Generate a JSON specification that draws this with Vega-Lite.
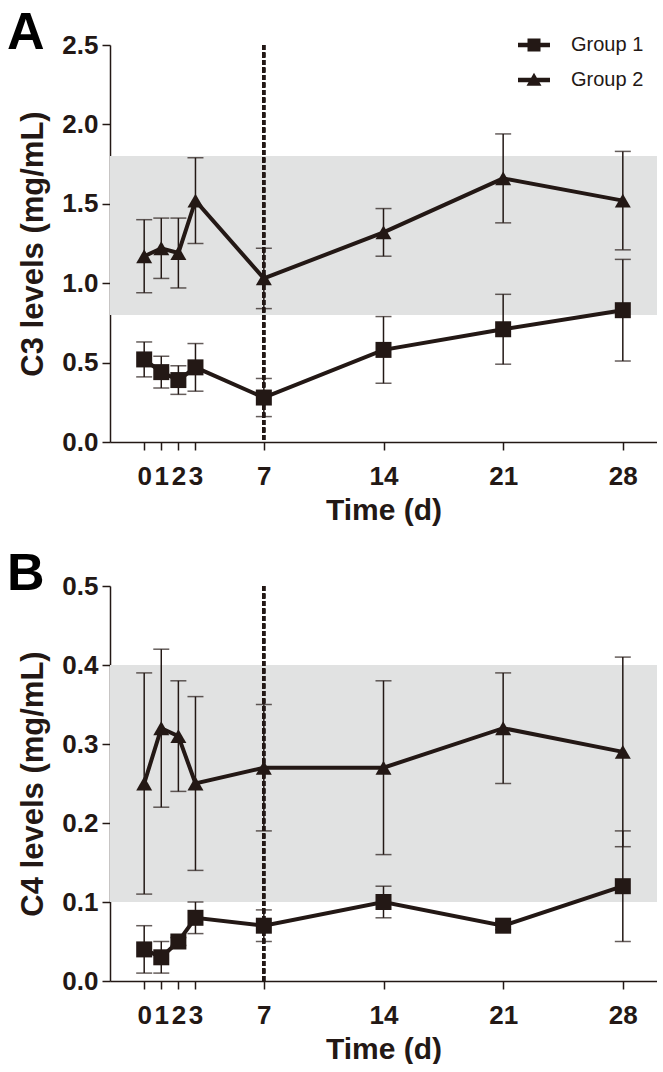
{
  "$schema": "https://vega.github.io/schema/vega-lite/v6.json",
  "background": "white",
  "padding": {"left": 7, "top": 7, "right": 0, "bottom": 0},
  "spacing": 23,
  "config": {
    "view": {"stroke": null},
    "font": "Liberation Sans",
    "axis": {
      "grid": false,
      "domainColor": "#231815",
      "domainWidth": 1.5,
      "tickColor": "#231815",
      "tickWidth": 1.5,
      "tickSize": 8,
      "labelFont": "Liberation Sans",
      "labelFontSize": 26,
      "labelFontWeight": "bold",
      "labelColor": "#231815",
      "titleFont": "Liberation Sans",
      "titleFontSize": 30,
      "titleFontWeight": "bold",
      "titleColor": "#231815",
      "labelOverlap": false,
      "labelFlush": false
    },
    "title": {
      "anchor": "start",
      "frame": "group",
      "fontSize": 52,
      "fontWeight": "bold",
      "font": "Liberation Sans",
      "color": "black",
      "dx": -103,
      "offset": -28
    }
  },
  "datasets": {
    "c3": [
      {"day": 0, "group": "Group 1", "mean": 0.52, "lo": 0.41, "hi": 0.63},
      {"day": 1, "group": "Group 1", "mean": 0.44, "lo": 0.34, "hi": 0.54},
      {"day": 2, "group": "Group 1", "mean": 0.39, "lo": 0.30, "hi": 0.48},
      {"day": 3, "group": "Group 1", "mean": 0.47, "lo": 0.32, "hi": 0.62},
      {"day": 7, "group": "Group 1", "mean": 0.28, "lo": 0.16, "hi": 0.40},
      {"day": 14, "group": "Group 1", "mean": 0.58, "lo": 0.37, "hi": 0.79},
      {"day": 21, "group": "Group 1", "mean": 0.71, "lo": 0.49, "hi": 0.93},
      {"day": 28, "group": "Group 1", "mean": 0.83, "lo": 0.51, "hi": 1.15},
      {"day": 0, "group": "Group 2", "mean": 1.17, "lo": 0.94, "hi": 1.40},
      {"day": 1, "group": "Group 2", "mean": 1.22, "lo": 1.03, "hi": 1.41},
      {"day": 2, "group": "Group 2", "mean": 1.19, "lo": 0.97, "hi": 1.41},
      {"day": 3, "group": "Group 2", "mean": 1.52, "lo": 1.25, "hi": 1.79},
      {"day": 7, "group": "Group 2", "mean": 1.03, "lo": 0.84, "hi": 1.22},
      {"day": 14, "group": "Group 2", "mean": 1.32, "lo": 1.17, "hi": 1.47},
      {"day": 21, "group": "Group 2", "mean": 1.66, "lo": 1.38, "hi": 1.94},
      {"day": 28, "group": "Group 2", "mean": 1.52, "lo": 1.21, "hi": 1.83}
    ],
    "c4": [
      {"day": 0, "group": "Group 1", "mean": 0.04, "lo": 0.01, "hi": 0.07},
      {"day": 1, "group": "Group 1", "mean": 0.03, "lo": 0.01, "hi": 0.05},
      {"day": 2, "group": "Group 1", "mean": 0.05, "lo": 0.045, "hi": 0.055},
      {"day": 3, "group": "Group 1", "mean": 0.08, "lo": 0.06, "hi": 0.10},
      {"day": 7, "group": "Group 1", "mean": 0.07, "lo": 0.05, "hi": 0.09},
      {"day": 14, "group": "Group 1", "mean": 0.10, "lo": 0.08, "hi": 0.12},
      {"day": 21, "group": "Group 1", "mean": 0.07, "lo": 0.065, "hi": 0.075},
      {"day": 28, "group": "Group 1", "mean": 0.12, "lo": 0.05, "hi": 0.19},
      {"day": 0, "group": "Group 2", "mean": 0.25, "lo": 0.11, "hi": 0.39},
      {"day": 1, "group": "Group 2", "mean": 0.32, "lo": 0.22, "hi": 0.42},
      {"day": 2, "group": "Group 2", "mean": 0.31, "lo": 0.24, "hi": 0.38},
      {"day": 3, "group": "Group 2", "mean": 0.25, "lo": 0.14, "hi": 0.36},
      {"day": 7, "group": "Group 2", "mean": 0.27, "lo": 0.19, "hi": 0.35},
      {"day": 14, "group": "Group 2", "mean": 0.27, "lo": 0.16, "hi": 0.38},
      {"day": 21, "group": "Group 2", "mean": 0.32, "lo": 0.25, "hi": 0.39},
      {"day": 28, "group": "Group 2", "mean": 0.29, "lo": 0.17, "hi": 0.41}
    ]
  },
  "resolve": {"scale": {"shape": "independent"}, "legend": {"shape": "independent"}},
  "vconcat": [
    {
      "title": "A",
      "width": 547,
      "height": 397,
      "data": {"name": "c3"},
      "resolve": {"scale": {"shape": "independent"}, "legend": {"shape": "independent"}},
      "encoding": {
        "x": {"field": "day", "type": "quantitative", "scale": {"domain": [-2, 30], "nice": false, "zero": false},
              "axis": {"values": [0, 1, 2, 3, 7, 14, 21, 28], "title": "Time (d)", "labelPadding": 13, "titlePadding": 6}}
      },
      "layer": [
        {
          "mark": {"type": "rect", "color": "#e1e2e2"},
          "encoding": {
            "x": {"datum": -2, "type": "quantitative"},
            "x2": {"datum": 30},
            "y": {"datum": 0.8, "type": "quantitative"},
            "y2": {"datum": 1.8}
          }
        },
        {
          "mark": {"type": "rule", "color": "#231815", "strokeWidth": 2.5, "strokeDash": [5, 2.5]},
          "encoding": {"x": {"datum": 7, "type": "quantitative"}}
        },
        {
          "mark": {"type": "rule", "color": "#231815", "strokeWidth": 1.5},
          "encoding": {
            "y": {"field": "lo", "type": "quantitative"},
            "y2": {"field": "hi"}
          }
        },
        {
          "transform": [{"fold": ["lo", "hi"], "as": ["k", "v"]}],
          "mark": {"type": "tick", "orient": "horizontal", "color": "#231815", "size": 16, "thickness": 1.5},
          "encoding": {
            "y": {"field": "v", "type": "quantitative"}
          }
        },
        {
          "mark": {"type": "line", "color": "#231815", "strokeWidth": 4},
          "encoding": {
            "y": {"field": "mean", "type": "quantitative"},
            "detail": {"field": "group"}
          }
        },
        {
          "mark": {"type": "point", "filled": true, "opacity": 1, "size": 256, "fill": "#231815"},
          "encoding": {
            "y": {"field": "mean", "type": "quantitative",
                  "scale": {"domain": [0, 2.5], "nice": false},
                  "axis": {"values": [0, 0.5, 1, 1.5, 2, 2.5], "format": ".1f", "title": "C3 levels (mg/mL)", "titleFontSize": 31, "labelPadding": 4, "titlePadding": 12}},
            "shape": {
              "field": "group", "type": "nominal",
              "scale": {"domain": ["Group 1", "Group 2"], "range": ["square", "triangle-up"]},
              "legend": null
            }
          }
        },
        {
          "mark": {"type": "point", "filled": true, "opacity": 0, "size": 0, "fill": "#231815"},
          "encoding": {
            "y": {"field": "mean", "type": "quantitative"},
            "shape": {
              "field": "group", "type": "nominal",
              "scale": {"domain": ["Group 1", "Group 2"], "range": ["M-2.46,-0.36H2.46V0.36H-2.46ZM-1,-1H1V1H-1Z", "M-2.46,-0.36H2.46V0.36H-2.46ZM0,-1.1L1.15,0.9H-1.15Z"]},
              "legend": {
                "title": null,
                "orient": "none",
                "legendX": 414,
                "legendY": -10,
                "symbolSize": 169,
                "symbolFillColor": "#231815",
                "symbolStrokeWidth": 0,
                "symbolOpacity": 1,
                "labelFontSize": 20,
                "labelFont": "Liberation Sans",
                "labelFontWeight": "normal",
                "labelColor": "#231815",
                "labelOffset": 27,
                "rowPadding": 15
              }
            }
          }
        }
      ]
    },
    {
      "title": "B",
      "width": 547,
      "height": 395,
      "data": {"name": "c4"},
      "encoding": {
        "x": {"field": "day", "type": "quantitative", "scale": {"domain": [-2, 30], "nice": false, "zero": false},
              "axis": {"values": [0, 1, 2, 3, 7, 14, 21, 28], "title": "Time (d)", "labelPadding": 13, "titlePadding": 6}}
      },
      "layer": [
        {
          "mark": {"type": "rect", "color": "#e1e2e2"},
          "encoding": {
            "x": {"datum": -2, "type": "quantitative"},
            "x2": {"datum": 30},
            "y": {"datum": 0.1, "type": "quantitative"},
            "y2": {"datum": 0.4}
          }
        },
        {
          "mark": {"type": "rule", "color": "#231815", "strokeWidth": 2.5, "strokeDash": [5, 2.5]},
          "encoding": {"x": {"datum": 7, "type": "quantitative"}}
        },
        {
          "mark": {"type": "rule", "color": "#231815", "strokeWidth": 1.5},
          "encoding": {
            "y": {"field": "lo", "type": "quantitative"},
            "y2": {"field": "hi"}
          }
        },
        {
          "transform": [{"fold": ["lo", "hi"], "as": ["k", "v"]}],
          "mark": {"type": "tick", "orient": "horizontal", "color": "#231815", "size": 16, "thickness": 1.5},
          "encoding": {
            "y": {"field": "v", "type": "quantitative"}
          }
        },
        {
          "mark": {"type": "line", "color": "#231815", "strokeWidth": 4},
          "encoding": {
            "y": {"field": "mean", "type": "quantitative"},
            "detail": {"field": "group"}
          }
        },
        {
          "mark": {"type": "point", "filled": true, "opacity": 1, "size": 256, "fill": "#231815"},
          "encoding": {
            "y": {"field": "mean", "type": "quantitative",
                  "scale": {"domain": [0, 0.5], "nice": false},
                  "axis": {"values": [0, 0.1, 0.2, 0.3, 0.4, 0.5], "format": ".1f", "title": "C4 levels (mg/mL)", "titleFontSize": 31, "labelPadding": 4, "titlePadding": 12}},
            "shape": {
              "field": "group", "type": "nominal",
              "scale": {"domain": ["Group 1", "Group 2"], "range": ["square", "triangle-up"]},
              "legend": null
            }
          }
        }
      ]
    }
  ]
}
